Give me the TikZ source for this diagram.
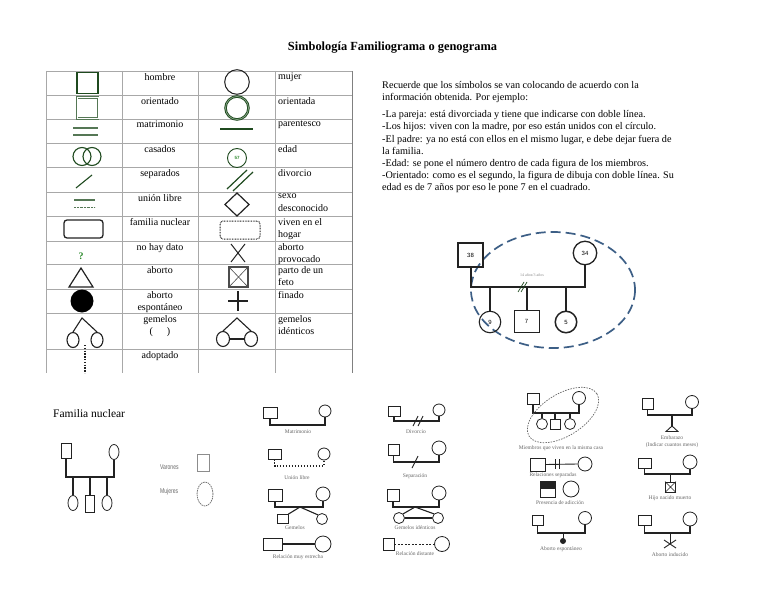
\documentclass[tikz,border=0pt]{standalone}
\usepackage{fontspec}
\setmainfont{Liberation Serif}
\newfontfamily\sansf{Liberation Sans}
\usetikzlibrary{shapes.geometric,calc}
\definecolor{dkgreen}{HTML}{1F4A1F}
\definecolor{mdgreen}{HTML}{557755}
\definecolor{ltgreen}{HTML}{8AA88A}
\definecolor{qgreen}{HTML}{2E8B2E}
\definecolor{elblue}{HTML}{3D5F86}
\definecolor{tgray}{HTML}{A8A8A8}
\definecolor{ink}{HTML}{222222}
\begin{document}
\begin{tikzpicture}[x=1pt,y=-1pt,
  tline/.style={draw=tgray,line width=0.7pt},
  lblc/.style={anchor=north,inner sep=0pt,align=center,font=\fontsize{10}{12.5}\selectfont},
  lbll/.style={anchor=north west,inner sep=0pt,align=left,font=\fontsize{10}{12.5}\selectfont},
  gsq/.style={draw=ink,rectangle,line width=0.8pt,inner sep=0pt},
  gci/.style={draw=ink,circle,line width=0.8pt,inner sep=0pt},
  gel/.style={draw=ink,ellipse,line width=0.8pt,inner sep=0pt},
  gline/.style={draw=ink,line width=1.1pt},
  glab/.style={inner sep=0pt,text=black!60,font=\fontsize{5.5}{6.5}\selectfont},
  numtxt/.style={font=\sansf\fontsize{6}{7}\selectfont}
  ]
\useasboundingbox (0,0) rectangle (768,594);
\fill[white] (0,0) rectangle (768,594);

% title
\node[font=\bfseries\fontsize{12.4}{14}\selectfont,inner sep=0pt] (title) at (392.5,48) {Simbología Familiograma o genograma};

% ---------- table ----------
\foreach \yy in {71,95,119,143,167,192,216,241,264,289,313,349}
  \draw[tline] (46,\yy) -- (352,\yy);
\foreach \xx in {46,122,198,275}
  \draw[tline] (\xx,71) -- (\xx,373);
\draw[draw=gray,line width=0.9pt] (352,71) -- (352,373);

% column 2 labels
\node[lblc] (l1) at (160,73) {hombre};
\node[lblc] (l2) at (160,97) {orientado};
\node[lblc] (l3) at (160,121) {matrimonio};
\node[lblc] (l4) at (160,145) {casados};
\node[lblc] (l5) at (160,169) {separados};
\node[lblc] (l6) at (160,194) {unión libre};
\node[lblc] (l7) at (160,218) {familia nuclear};
\node[lblc] (l8) at (160,243) {no hay dato};
\node[lblc] (l9) at (160,266) {aborto};
\node[lblc] (l10) at (160,291) {aborto\\espontáneo};
\node[lblc] (l11) at (160,315) {gemelos\\(\hspace{14pt})};
\node[lblc] (l12) at (160,351) {adoptado};
% column 4 labels
\node[lbll] (r1) at (278,73) {mujer};
\node[lbll] (r2) at (278,97) {orientada};
\node[lbll] (r3) at (278,121) {parentesco};
\node[lbll] (r4) at (278,145) {edad};
\node[lbll] (r5) at (278,169) {divorcio};
\node[lbll] (r6) at (278,194) {sexo\\desconocido};
\node[lbll] (r7) at (278,218) {viven en el\\hogar};
\node[lbll] (r8) at (278,243) {aborto\\provocado};
\node[lbll] (r9) at (278,266) {parto de un\\feto};
\node[lbll] (r10) at (278,291) {finado};
\node[lbll] (r11) at (278,315) {gemelos\\idénticos};

% column 1 symbols
\node[draw=dkgreen,line width=1.7pt,minimum size=21pt,inner sep=0pt] (shombre) at (87.5,83) {};
\node[draw=mdgreen,double=white,double distance=0.8pt,line width=0.7pt,minimum size=21pt,inner sep=0pt] (sorient) at (87.5,108) {};
\draw[mdgreen,line width=1.3pt] (73,128) -- (98,128);
\draw[mdgreen,line width=1.3pt] (73,135) -- (98,135);
\draw[dkgreen,line width=1.1pt] (82,156.5) circle[radius=9];
\draw[dkgreen,line width=1.1pt] (92,156.5) circle[radius=9];
\draw[dkgreen,line width=1.1pt] (76,188) -- (92,175);
\draw[mdgreen,line width=1.3pt] (74,200) -- (95,200);
\draw[mdgreen,line width=0.9pt,dash pattern=on 0.7pt off 0.7pt] (74,207.5) -- (95,207.5);
\draw[ink,line width=1.3pt,rounded corners=3pt] (64,220) rectangle (103,238);
\node[text=qgreen,font=\bfseries\fontsize{10}{12}\selectfont,inner sep=0pt] (qmark) at (81,256) {?};
\draw[ink,line width=1.2pt,line join=miter] (81,268) -- (93,287) -- (69,287) -- cycle;
\fill[black] (82,301) circle[radius=11.5];
\node[gel,line width=1.1pt,minimum width=12pt,minimum height=15pt] (gm1) at (73,340) {};
\node[gel,line width=1.1pt,minimum width=12pt,minimum height=15pt] (gm2) at (97,340) {};
\coordinate (gmA) at (82,318);
\draw[ink,line width=1.1pt] (gm1.north) -- (gmA) -- (gm2.north);
\draw[ink,line width=1.6pt,dash pattern=on 1.4pt off 1.4pt] (85,345) -- (85,373);

% column 3 symbols
\draw[ink,line width=1pt] (237,82) circle[radius=12.3];
\draw[dkgreen,double=ltgreen,double distance=0.7pt,line width=0.9pt] (237,108) circle[radius=11.5];
\draw[dkgreen,line width=2pt] (220,129) -- (253,129);
\node[gci,draw=dkgreen,line width=0.9pt,minimum size=19pt,text=qgreen,font=\sansf\bfseries\fontsize{4.5}{5}\selectfont] (sedad) at (237,158) {57};
\draw[dkgreen,line width=1.2pt] (227,189) -- (247,170);
\draw[dkgreen,line width=1.2pt] (233,191) -- (253,172);
\draw[ink,line width=1.2pt] (237,193) -- (249,204.5) -- (237,216) -- (225,204.5) -- cycle;
\draw[ink,line width=1pt,dash pattern=on 0.8pt off 0.8pt,rounded corners=3pt] (220,221) rectangle (260,239);
\draw[ink,line width=1pt] (231,244) -- (245,262) (245,244) -- (231,262);
\draw[black!70,line width=1.3pt] (229,267) rectangle (248,287);
\draw[black!70,line width=0.6pt] (229,267) -- (248,287) (248,267) -- (229,287);
\draw[ink,line width=1.2pt] (228,301) -- (248,301) (238,291) -- (238,311);
\node[gel,line width=1.1pt,minimum width=13pt,minimum height=15pt] (gi1) at (223,339) {};
\node[gel,line width=1.1pt,minimum width=13pt,minimum height=15pt] (gi2) at (251,339) {};
\coordinate (giA) at (237,318);
\draw[ink,line width=1.1pt] (gi1.north) -- (giA) -- (gi2.north);
\draw[ink,line width=1.8pt] (gi1.east) -- (gi2.west);

% ---------- explanatory text ----------
\node[anchor=north west,inner sep=0pt,align=left,font=\fontsize{10.2}{12.2}\selectfont] (expl) at (382,81) {%
Recuerde que los símbolos se van colocando de acuerdo con la\\
información obtenida. Por ejemplo:\\[5pt]
-La pareja: está divorciada y tiene que indicarse con doble línea.\\
-Los hijos: viven con la madre, por eso están unidos con el círculo.\\
-El padre: ya no está con ellos en el mismo lugar, e debe dejar fuera de\\
la familia.\\
-Edad: se pone el número dentro de cada figura de los miembros.\\
-Orientado: como es el segundo, la figura de dibuja con doble línea. Su\\
edad es de 7 años por eso le pone 7 en el cuadrado.};

% ---------- example genogram ----------
\draw[elblue,line width=1.7pt,dash pattern=on 10pt off 5pt] (553,290) ellipse[x radius=82,y radius=58];
\node[gsq,line width=1.5pt,minimum width=25pt,minimum height=24pt,numtxt] (g38) at (470.5,255) {38};
\node[gci,line width=1.3pt,minimum size=23.5pt,numtxt] (g34) at (585,253) {34};
\coordinate (gL) at (470.5,287);
\coordinate (gR) at (585,287);
\draw[ink,line width=2pt] (g38.south) -- (gL) -- (gR) -- (g34.south);
\node[gci,line width=1.1pt,minimum size=21.5pt,numtxt] (g9) at (490,322) {9};
\node[gsq,line width=0.6pt,minimum width=25pt,minimum height=22pt,numtxt] (g7) at (526.5,321) {7};
\node[gci,line width=1.5pt,minimum size=21.5pt,numtxt] (g5) at (566,322) {5};
\coordinate (c9) at (490,287);
\coordinate (c7) at (526.5,287);
\coordinate (c5) at (566,287);
\draw[ink,line width=2pt] (c9) -- (g9.north);
\draw[ink,line width=2pt] (c7) -- (g7.north);
\draw[ink,line width=2pt] (c5) -- (g5.north);
\draw[dkgreen,line width=0.7pt] (518,292) -- (524,282) (521,292) -- (527,282);
\node[glab,font=\fontsize{4}{5}\selectfont,text=black!45] (gyears) at (532,275) {14 años/3 años};

% ---------- Familia nuclear ----------
\node[anchor=west,inner sep=0pt,font=\fontsize{11.5}{13}\selectfont] (fntitle) at (53,414) {Familia nuclear};
\node[gsq,minimum width=10pt,minimum height=15pt] (fnH) at (66,450.5) {};
\node[gel,minimum width=10pt,minimum height=15pt] (fnM) at (114,452) {};
\coordinate (fnL) at (66,477);
\coordinate (fnR) at (114,477);
\draw[gline] (fnH.south) -- (fnL) -- (fnR) -- (fnM.south);
\node[gel,minimum width=10pt,minimum height=15pt] (fnC1) at (73,503) {};
\node[gsq,minimum width=9pt,minimum height=17pt] (fnC2) at (90,503.5) {};
\node[gel,minimum width=10pt,minimum height=15pt] (fnC3) at (107,503) {};
\coordinate (fn1) at (73,477);
\coordinate (fn2) at (90,477);
\coordinate (fn3) at (107,477);
\draw[gline] (fn1) -- (fnC1.north);
\draw[gline] (fn2) -- (fnC2.north);
\draw[gline] (fn3) -- (fnC3.north);
\node[anchor=west,inner sep=0pt,text=black!60,font=\sansf\fontsize{7}{8}\selectfont] (varl) at (160,467) {\scalebox{0.72}[1]{Varones}};
\node[draw=black!45,line width=0.6pt,minimum width=12pt,minimum height=17pt,inner sep=0pt] (vars) at (203,462.5) {};
\node[anchor=west,inner sep=0pt,text=black!60,font=\sansf\fontsize{7}{8}\selectfont] (mujl) at (160,492) {\scalebox{0.72}[1]{Mujeres}};
\node[ellipse,draw=black!55,line width=0.8pt,dash pattern=on 1.5pt off 0.8pt,minimum width=16pt,minimum height=24pt,inner sep=0pt] (mujs) at (205,494) {};

% ---------- middle symbol examples ----------
% Matrimonio
\node[gsq,minimum width=14pt,minimum height=11pt] (m1) at (270,412.5) {};
\node[gci,minimum size=12pt] (m2) at (325,411) {};
\coordinate (mL) at (270,425); \coordinate (mR) at (325,425);
\draw[gline] (m1.south) -- (mL) -- (mR) -- (m2.south);
\node[glab] (mlab) at (298,432) {Matrimonio};
% Union libre
\node[gsq,minimum width=13pt,minimum height=10pt] (u1) at (274.5,454) {};
\node[gci,minimum size=12pt] (u2) at (324,454) {};
\coordinate (uL) at (274.5,466); \coordinate (uR) at (324,466);
\draw[gline,dash pattern=on 1.5pt off 1.5pt] (u1.south) -- (uL) -- (uR) -- (u2.south);
\node[glab] (ulab) at (297,478) {Unión libre};
% Gemelos
\node[gsq,minimum width=14pt,minimum height=12pt] (ge1) at (275,495) {};
\node[gci,minimum size=14pt] (ge2) at (323,494) {};
\coordinate (geL) at (275,507); \coordinate (geR) at (323,507); \coordinate (geA) at (300,507);
\draw[gline] (ge1.south) -- (geL) -- (geR) -- (ge2.south);
\node[gsq,minimum width=11pt,minimum height=9pt] (ge3) at (282.5,519) {};
\node[gci,minimum size=11pt] (ge4) at (322,519) {};
\draw[gline] (ge3.north east) -- (geA) -- (ge4.north west);
\node[glab] (gelab) at (295,527.5) {Gemelos};
% Relacion muy estrecha
\node[gsq,minimum width=19pt,minimum height=12pt] (re1) at (272.5,544) {};
\node[gci,minimum size=16pt] (re2) at (323,544) {};
\draw[ink,line width=2.4pt] (re1.east) -- (re2.west);
\node[glab] (relab) at (298,557) {Relación muy estrecha};
% Divorcio
\node[gsq,minimum width=12pt,minimum height=10pt] (d1) at (394,411) {};
\node[gci,minimum size=12pt] (d2) at (439,410) {};
\coordinate (dL) at (394,421); \coordinate (dR) at (439,421);
\draw[gline] (d1.south) -- (dL) -- (dR) -- (d2.south);
\draw[gline,line width=0.9pt] (413,426) -- (418,416) (418,426) -- (423,416);
\node[glab] (dlab) at (416,432) {Divorcio};
% Separacion
\node[gsq,minimum width=11pt,minimum height=11pt] (s1) at (393.5,449.5) {};
\node[gci,minimum size=14pt] (s2) at (439,448) {};
\coordinate (sL) at (393.5,462); \coordinate (sR) at (439,462);
\draw[gline] (s1.south) -- (sL) -- (sR) -- (s2.south);
\draw[gline,line width=0.9pt] (412,468) -- (418,456);
\node[glab] (slab) at (415,476) {Separación};
% Gemelos identicos
\node[gsq,minimum width=12pt,minimum height=12pt] (gd1) at (393,495) {};
\node[gci,minimum size=14pt] (gd2) at (439,493) {};
\coordinate (gdL) at (393,507); \coordinate (gdR) at (439,507); \coordinate (gdA) at (415,507);
\draw[gline] (gd1.south) -- (gdL) -- (gdR) -- (gd2.south);
\node[gci,minimum size=11pt] (gd3) at (399,518) {};
\node[gci,minimum size=11pt] (gd4) at (438,518) {};
\draw[gline] (gd3.north east) -- (gdA) -- (gd4.north west);
\draw[ink,line width=1.6pt] (gd3.east) -- (gd4.west);
\node[glab] (gdlab) at (415,528) {Gemelos idénticos};
% Relacion distante
\node[gsq,minimum width=11pt,minimum height=12pt] (di1) at (388.5,544) {};
\node[gci,minimum size=15pt] (di2) at (442,544) {};
\draw[gline,line width=0.8pt,dash pattern=on 2pt off 1.5pt] (di1.east) -- (di2.west);
\node[glab] (dilab) at (415,554) {Relación distante};

% ---------- right symbol examples ----------
% Miembros que viven en la misma casa
\node[gsq,minimum width=12pt,minimum height=11pt] (mi1) at (533,398.5) {};
\node[gci,minimum size=13pt] (mi2) at (579,398) {};
\coordinate (miL) at (533,413); \coordinate (miR) at (579,413);
\draw[gline] (mi1.south) -- (miL) -- (miR) -- (mi2.south);
\node[gci,minimum size=11pt] (mi3) at (542,424) {};
\node[gsq,minimum width=10pt,minimum height=10pt] (mi4) at (555,424) {};
\node[gci,minimum size=11pt] (mi5) at (570,424) {};
\coordinate (mia) at (542,413); \coordinate (mib) at (555,413); \coordinate (mic) at (570,413);
\draw[gline] (mia) -- (mi3.north);
\draw[gline] (mib) -- (mi4.north);
\draw[gline] (mic) -- (mi5.north);
\draw[black!60,line width=0.7pt,dash pattern=on 1.5pt off 1.2pt,rotate around={32:(563,415)}] (563,415) ellipse[x radius=40,y radius=21];
\node[glab] (milab) at (561,448) {Miembros que viven en la misma casa};
% Relaciones separadas
\node[gsq,minimum width=15pt,minimum height=13pt] (rs1) at (537.5,464.5) {};
\node[gci,minimum size=14pt] (rs2) at (585,464) {};
\draw[gline,line width=0.9pt] (rs1.east) -- (rs2.west);
\draw[gline,line width=0.9pt] (555,459) -- (555,469) (559,459) -- (559,469);
\node[glab] (rslab) at (553,475.5) {Relaciones separadas};
% Presencia de adiccion
\fill[ink] (540,481) rectangle (555,489);
\node[gsq,minimum width=15pt,minimum height=16pt] (pa1) at (547.5,489) {};
\node[gci,minimum size=16pt] (pa2) at (571,489) {};
\node[glab] (palab) at (560,502.5) {Presencia de adicción};
% Aborto espontaneo
\node[gsq,minimum width=11pt,minimum height=10pt] (ae1) at (537.5,520) {};
\node[gci,minimum size=13pt] (ae2) at (585,518) {};
\coordinate (aeL) at (537.5,533); \coordinate (aeR) at (585,533); \coordinate (aeD) at (563,533);
\draw[gline] (ae1.south) -- (aeL) -- (aeR) -- (ae2.south);
\node[circle,fill=ink,minimum size=6pt,inner sep=0pt] (ae3) at (563,541) {};
\draw[gline,line width=0.8pt] (aeD) -- (ae3);
\node[glab] (aelab) at (561,549.5) {Aborto espontáneo};
% Embarazo
\node[gsq,minimum width=11pt,minimum height=11pt] (em1) at (647.5,403.5) {};
\node[gci,minimum size=13pt] (em2) at (692,402) {};
\coordinate (emL) at (647.5,415); \coordinate (emR) at (692,415); \coordinate (emD) at (672,415);
\draw[gline] (em1.south) -- (emL) -- (emR) -- (em2.south);
\coordinate (emT) at (672,426);
\draw[gline] (emD) -- (emT);
\draw[ink,line width=0.9pt] (emT) -- (678,431.5) -- (666,431.5) -- cycle;
\node[glab,align=center,font=\fontsize{5.5}{6.8}\selectfont] (emlab) at (672,442) {Embarazo\\(Indicar cuantos meses)};
% Hijo nacido muerto
\node[gsq,minimum width=13pt,minimum height=10pt] (hn1) at (644.5,463) {};
\node[gci,minimum size=14pt] (hn2) at (690,462) {};
\coordinate (hnL) at (644.5,474); \coordinate (hnR) at (690,474); \coordinate (hnD) at (670.5,474);
\draw[gline] (hn1.south) -- (hnL) -- (hnR) -- (hn2.south);
\node[gsq,minimum width=10pt,minimum height=10pt] (hn3) at (670.5,487) {};
\draw[ink,line width=0.6pt] (hn3.north west) -- (hn3.south east) (hn3.north east) -- (hn3.south west);
\draw[gline] (hnD) -- (hn3.north);
\node[glab] (hnlab) at (670,498) {Hijo nacido muerto};
% Aborto inducido
\node[gsq,minimum width=13pt,minimum height=10pt] (ai1) at (644.5,520) {};
\node[gci,minimum size=14pt] (ai2) at (690,519) {};
\coordinate (aiL) at (644.5,533); \coordinate (aiR) at (690,533); \coordinate (aiD) at (670,533);
\draw[gline] (ai1.south) -- (aiL) -- (aiR) -- (ai2.south);
\coordinate (aiX) at (670,544);
\draw[gline,line width=0.9pt] (aiD) -- (aiX);
\draw[ink,line width=0.9pt] (664,540) -- (676,548) (676,540) -- (664,548);
\node[glab] (ailab) at (670,554.5) {Aborto inducido};
\end{tikzpicture}
\end{document}
